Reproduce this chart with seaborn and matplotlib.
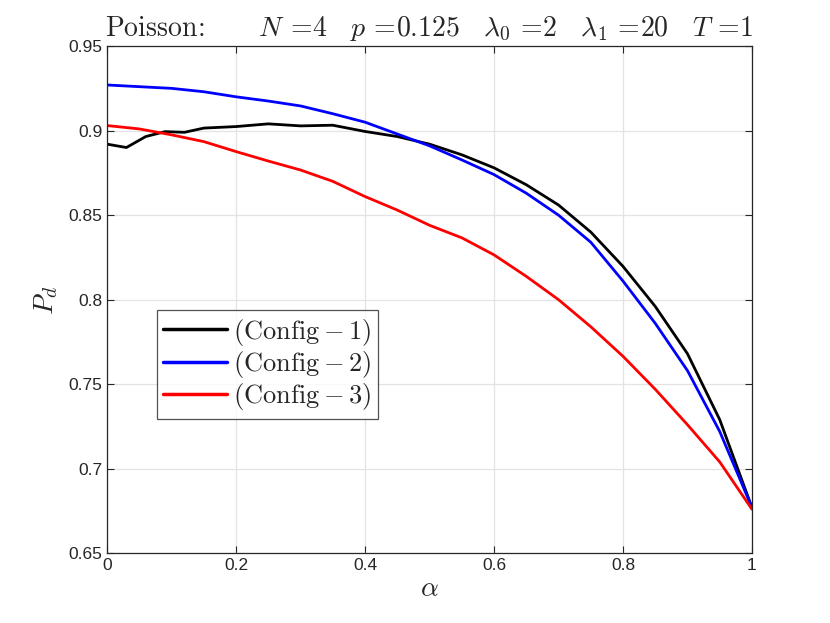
import pandas as pd
import matplotlib
matplotlib.use("Agg")
import matplotlib.pyplot as plt
import seaborn as sns

# P_d vs alpha
alpha_1 = [0, 0.03, 0.06, 0.09, 0.12, 0.15, 0.2, 0.25, 0.3, 0.35, 0.4, 0.45,
           0.5, 0.55, 0.6, 0.65, 0.7, 0.75, 0.8, 0.85, 0.9, 0.95, 1.0]
pd_1 = [0.892, 0.890, 0.8965, 0.8994, 0.899, 0.9015, 0.9024, 0.904, 0.9028, 0.9032,
        0.8995, 0.8965, 0.892, 0.8857, 0.878, 0.868, 0.856, 0.840, 0.8197, 0.796,
        0.768, 0.729, 0.677]

alpha_23 = [0, 0.05, 0.1, 0.15, 0.2, 0.25, 0.3, 0.35, 0.4, 0.45, 0.5,
            0.55, 0.6, 0.65, 0.7, 0.75, 0.8, 0.85, 0.9, 0.95, 1.0]
pd_2 = [0.927, 0.926, 0.925, 0.923, 0.920, 0.9175, 0.9146, 0.910, 0.905, 0.898, 0.891,
        0.8827, 0.874, 0.863, 0.850, 0.834, 0.811, 0.786, 0.758, 0.722, 0.677]
pd_3 = [0.903, 0.901, 0.8975, 0.8935, 0.8876, 0.882, 0.8767, 0.870, 0.861, 0.853, 0.844,
        0.8366, 0.8265, 0.8138, 0.800, 0.784, 0.7665, 0.747, 0.726, 0.704, 0.676]

labels = [r"$\mathrm{(Config-1)}$", r"$\mathrm{(Config-2)}$", r"$\mathrm{(Config-3)}$"]
colors = ["black", "blue", "red"]

df = pd.concat([
    pd.DataFrame({"alpha": alpha_1, "Pd": pd_1, "config": labels[0]}),
    pd.DataFrame({"alpha": alpha_23, "Pd": pd_2, "config": labels[1]}),
    pd.DataFrame({"alpha": alpha_23, "Pd": pd_3, "config": labels[2]}),
])

sns.set_style("ticks")
plt.rcParams["font.family"] = ["Liberation Sans", "DejaVu Sans"]
plt.rcParams["mathtext.fontset"] = "cm"

fig = plt.figure(figsize=(8.3, 6.23), dpi=100)
ax = fig.add_axes([0.129, 0.112, 0.777, 0.814])
sns.lineplot(data=df, x="alpha", y="Pd", hue="config", palette=colors,
             linewidth=2.0, sort=False, ax=ax)

ax.set_xlim(0, 1)
ax.set_ylim(0.65, 0.95)
ax.set_xticks([0, 0.2, 0.4, 0.6, 0.8, 1])
ax.set_xticklabels(["0", "0.2", "0.4", "0.6", "0.8", "1"])
ax.set_yticks([0.65, 0.7, 0.75, 0.8, 0.85, 0.9, 0.95])
ax.set_yticklabels(["0.65", "0.7", "0.75", "0.8", "0.85", "0.9", "0.95"])
ax.tick_params(direction="in", length=5, labelsize=12.5, colors="#262626",
               top=True, right=True)
ax.grid(True, color="#e3e3e3", linewidth=0.9)
for s in ax.spines.values():
    s.set_color("#262626")
    s.set_linewidth(0.9)

ax.set_xlabel(r"$\alpha$", fontsize=20, labelpad=2)
ax.set_ylabel(r"$P_d$", fontsize=20, labelpad=6)
ax.set_title(r"$\mathrm{Poisson}\!:\qquad N\,=\!4\quad p\,=\!0.125\quad \lambda_0\,=\!2\quad \lambda_1\,=\!20\quad T\,=\!1$",
             fontsize=20, pad=7)

leg = ax.legend(loc="lower left", bbox_to_anchor=(0.077, 0.265), fontsize=19,
                frameon=True, fancybox=False, edgecolor="#262626",
                handlelength=2.4, handletextpad=0.25, borderpad=0.25,
                labelspacing=0.05, borderaxespad=0)
leg.get_frame().set_linewidth(0.9)
for line in leg.get_lines():
    line.set_linewidth(2.5)

fig.savefig("out.png", dpi=100)
